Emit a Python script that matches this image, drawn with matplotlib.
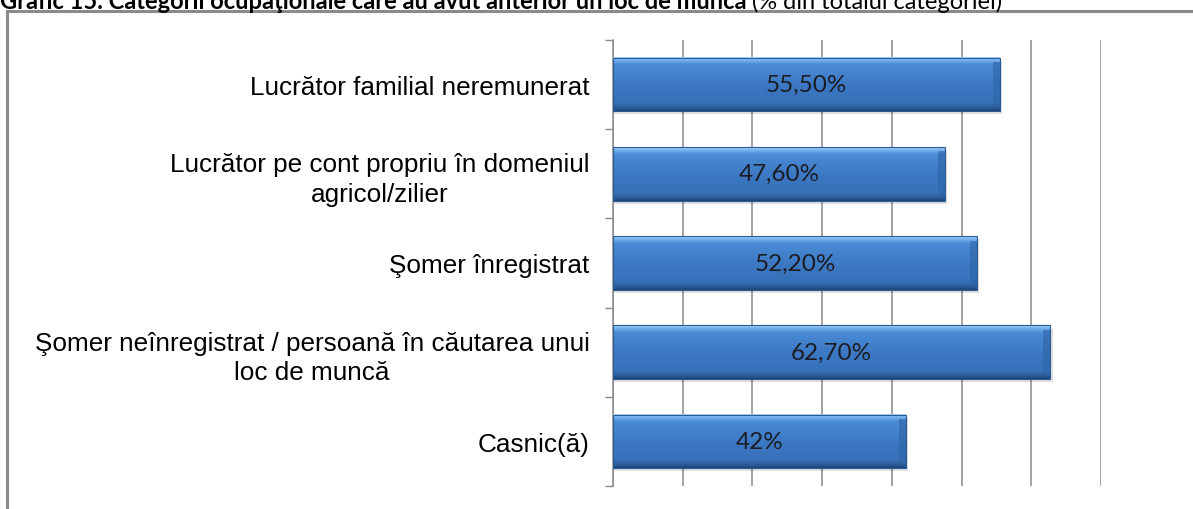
import matplotlib.pyplot as plt
import numpy as np
from matplotlib.colors import LinearSegmentedColormap
from matplotlib.patches import Rectangle

categories = ['Lucrător familial neremunerat',
              'Lucrător pe cont propriu în domeniul\nagricol/zilier',
              'Şomer înregistrat',
              'Şomer neînregistrat / persoană în căutarea unui\nloc de muncă',
              'Casnic(ă)']
values = [55.5, 47.6, 52.2, 62.7, 42.0]
value_labels = ['55,50%', '47,60%', '52,20%', '62,70%', '42%']

title_bold = 'Grafic 15. Categorii ocupaţionale care au avut anterior un loc de muncă'
title_rest = ' (% din totalul categoriei)'

W, H = 1193, 510
fig = plt.figure(figsize=(W / 100, H / 100), dpi=100)
ax = fig.add_axes([613 / W, 1 - 487 / H, (1101 - 613) / W, (487 - 41) / H])

# outer frame (runs off the right and bottom edges)
fig.patches.append(Rectangle((7 / W, -0.1), 1.2, 1 - 12 / H + 0.1,
                             transform=fig.transFigure, fill=False,
                             edgecolor='#8a8a8a', lw=2.2, zorder=0))

bar_h = 0.6
grad = LinearSegmentedColormap.from_list('bevel', [
    (0.0, '#a6d1f6'), (0.05, '#74b2ee'), (0.13, '#4a8bd5'),
    (0.5, '#3d79c4'), (0.86, '#3670b8'), (0.94, '#2d5e9c'), (1.0, '#1f4676')])
g = np.linspace(0, 1, 64).reshape(-1, 1)

ypos = np.arange(len(categories))
for y, v in zip(ypos, values):
    # soft shadow under the bar
    ax.barh(y + 0.035, v + 0.35, height=bar_h, left=0, color='#000000',
            alpha=0.12, zorder=2, lw=0)
    ax.imshow(g, cmap=grad, aspect='auto', interpolation='bilinear',
              extent=[0, v, y + bar_h / 2, y - bar_h / 2], zorder=3)
    # darker bevelled right end
    ax.barh(y, 1.0, height=bar_h * 0.84, left=v - 1.0, color='#2f64a6',
            alpha=0.6, lw=0, zorder=4)
    ax.barh(y, v, height=bar_h, color='none', edgecolor='#2b5b96',
            lw=0.8, zorder=5)

for y, v, lab in zip(ypos, values, value_labels):
    ax.text(v / 2, y, lab, ha='center', va='center', fontsize=17.5,
            family='Lato', color='#1c1c24', zorder=6)

ax.set_xlim(0, 70)
ax.set_ylim(len(categories) - 0.5, -0.5)
ax.set_xticks(range(0, 71, 10))
ax.set_xticklabels([])
ax.tick_params(axis='x', length=0)
ax.grid(axis='x', color='#8a8a8a', lw=1.1, zorder=1)
ax.set_axisbelow(True)

ax.set_yticks(ypos)
ax.set_yticklabels(categories, family='Liberation Sans', fontsize=18.8,
                   multialignment='center', linespacing=1.3)
ax.set_yticks(np.arange(-0.5, len(categories), 1), minor=True)
ax.tick_params(axis='y', which='major', length=0, pad=17)
ax.tick_params(axis='y', which='minor', length=6, width=1, color='#8a8a8a')

for s in ['top', 'right', 'bottom']:
    ax.spines[s].set_visible(False)
ax.spines['left'].set_color('#8a8a8a')
ax.spines['left'].set_linewidth(1.1)

# title, clipped at the top edge like the source
t1 = fig.text(0.0, 1 - 9 / H, title_bold, fontsize=17, fontweight='bold',
              family='Lato', va='baseline', ha='left')
fig.canvas.draw()
bb = t1.get_window_extent()
fig.text(bb.x1 / W, 1 - 9 / H, title_rest, fontsize=17, family='Lato',
         va='baseline', ha='left')

fig.savefig('out.png', dpi=100)
